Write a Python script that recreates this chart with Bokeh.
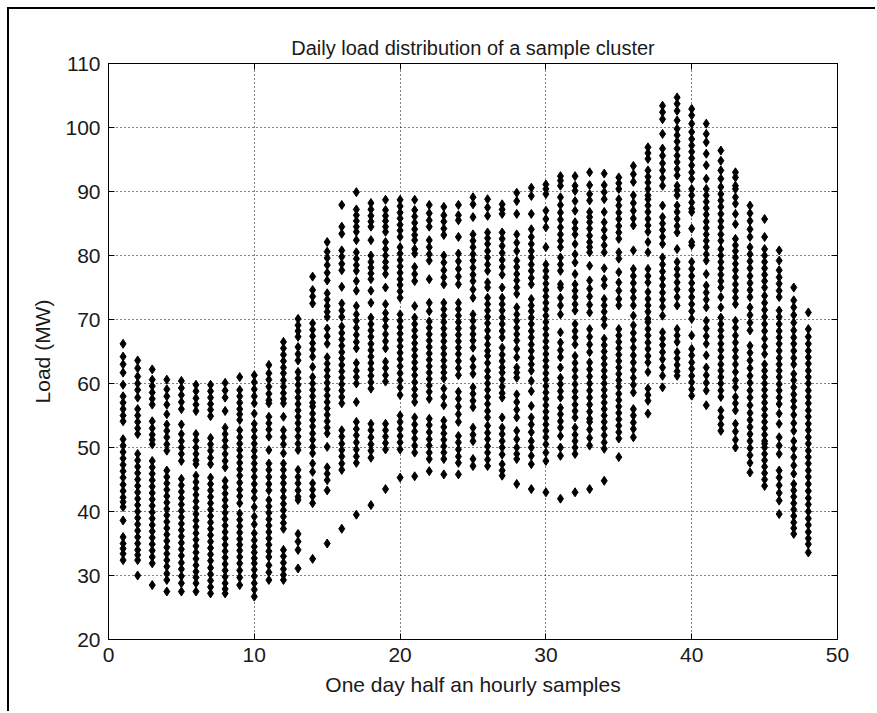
from bokeh.plotting import figure
from bokeh.models import LinearAxis, Range1d, FixedTicker, ColumnDataSource
from bokeh.embed import file_html
from bokeh.resources import INLINE

TITLE = "Daily load distribution of a sample cluster"
X_LABEL = "One day half an hourly samples"
Y_LABEL = "Load (MW)"
x_ticks = [0, 10, 20, 30, 40, 50]
y_ticks = [20, 30, 40, 50, 60, 70, 80, 90, 100, 110]

slots = list(range(1, 49))

s01 = [66.2, 64.2, 63.0, 61.7, 59.8, 58.0, 57.0, 56.0, 55.0, 54.1, 51.3, 50.3, 49.3, 48.3, 47.3, 46.3, 45.3, 44.2, 43.2, 42.2, 41.5, 40.7, 38.6, 36.0, 35.0, 34.2, 33.4, 32.4]
s02 = [63.6, 62.4, 61.1, 60.0, 59.0, 57.8, 56.0, 55.0, 54.0, 53.0, 52.1, 49.0, 48.0, 47.0, 46.0, 45.0, 44.0, 43.0, 42.0, 41.0, 40.0, 39.0, 38.0, 37.0, 36.0, 35.0, 34.0, 33.2, 32.4, 30.0]
s03 = [62.2, 60.6, 59.6, 58.6, 57.6, 56.7, 54.1, 53.0, 52.0, 51.2, 50.5, 47.9, 46.9, 45.9, 44.9, 43.9, 42.9, 41.9, 40.9, 39.9, 38.9, 37.9, 36.9, 35.9, 34.9, 33.9, 32.9, 31.9, 28.5]
s04 = [60.6, 59.1, 58.0, 56.7, 55.2, 53.6, 52.6, 51.6, 50.5, 49.5, 46.4, 45.4, 44.4, 43.4, 42.4, 41.4, 40.4, 39.4, 38.4, 37.4, 36.4, 35.4, 34.4, 33.4, 32.4, 31.4, 30.3, 29.3, 27.5]
s05 = [60.4, 59.3, 58.2, 57.1, 56.0, 53.6, 52.1, 51.0, 50.0, 49.0, 47.9, 45.1, 44.1, 43.1, 42.1, 41.1, 40.1, 39.1, 38.1, 37.1, 36.1, 35.1, 34.1, 33.1, 32.0, 31.0, 29.9, 28.8, 27.5]
s06 = [59.8, 58.8, 57.7, 56.7, 55.7, 52.1, 51.1, 50.0, 49.0, 48.0, 47.4, 45.6, 44.6, 43.6, 42.6, 41.6, 40.6, 39.6, 38.6, 37.6, 36.6, 35.6, 34.6, 33.6, 32.6, 31.6, 30.6, 29.7, 28.8, 27.5]
s07 = [59.8, 58.8, 57.8, 56.8, 55.9, 54.9, 51.5, 50.5, 49.5, 48.4, 47.4, 45.3, 44.3, 43.3, 42.3, 41.3, 40.3, 39.3, 38.3, 37.3, 36.3, 35.3, 34.3, 33.3, 32.3, 31.2, 30.2, 29.2, 28.2, 27.2]
s08 = [60.1, 58.9, 57.8, 55.7, 53.1, 52.1, 51.1, 50.1, 49.0, 47.9, 46.9, 44.8, 43.8, 42.8, 41.8, 40.8, 39.8, 38.8, 37.8, 36.8, 35.8, 34.8, 33.8, 32.8, 31.8, 30.8, 29.8, 28.8, 27.9, 27.2]
s09 = [61.0, 59.0, 58.0, 57.0, 56.0, 55.2, 54.3, 52.7, 51.6, 50.6, 49.6, 48.6, 47.6, 46.6, 45.6, 44.5, 43.4, 42.4, 41.3, 39.7, 38.7, 37.7, 36.7, 35.7, 34.8, 33.9, 32.9, 31.9, 30.8, 29.7, 28.5]
s10 = [61.3, 60.2, 59.1, 58.0, 56.9, 55.3, 53.7, 52.7, 51.6, 50.6, 49.5, 48.5, 47.5, 46.5, 45.4, 44.3, 43.2, 42.1, 40.7, 39.2, 38.0, 36.6, 35.5, 34.5, 33.6, 32.7, 31.9, 30.9, 29.9, 28.8, 27.8, 26.7]
s11 = [62.9, 61.6, 60.6, 59.5, 58.4, 57.4, 56.9, 54.8, 53.8, 52.8, 51.7, 49.6, 47.5, 46.5, 45.4, 44.3, 43.3, 41.8, 40.8, 39.8, 38.8, 37.8, 36.8, 35.8, 34.8, 33.8, 32.9, 31.6, 30.5, 29.3]
s12 = [66.5, 65.5, 64.5, 63.5, 62.5, 61.6, 60.5, 59.5, 58.5, 57.6, 56.9, 54.8, 52.7, 51.6, 50.5, 49.1, 47.5, 46.5, 45.4, 44.4, 43.3, 42.2, 41.2, 40.2, 39.2, 38.2, 37.3, 34.0, 33.0, 32.0, 31.0, 30.1, 29.3]
s13 = [70.1, 69.1, 68.2, 67.3, 65.7, 64.6, 63.6, 61.8, 60.8, 59.8, 58.8, 57.8, 56.8, 55.8, 54.8, 53.8, 52.8, 51.7, 50.6, 49.6, 46.5, 45.4, 44.4, 43.3, 42.3, 41.8, 36.5, 35.3, 34.0, 31.1]
s14 = [76.7, 74.6, 73.6, 72.5, 69.4, 68.4, 67.4, 66.3, 65.3, 64.2, 62.6, 61.0, 60.0, 59.0, 58.0, 57.0, 56.4, 55.3, 54.3, 53.3, 52.2, 51.2, 50.1, 49.1, 47.5, 46.2, 44.4, 43.4, 42.4, 41.3, 32.6]
s15 = [82.1, 80.6, 79.6, 78.5, 77.3, 76.1, 74.1, 73.1, 72.1, 71.2, 70.4, 68.6, 67.4, 66.2, 64.1, 63.1, 62.1, 61.1, 60.1, 59.1, 58.1, 57.1, 56.1, 55.1, 54.1, 53.1, 52.2, 50.1, 46.9, 45.9, 44.9, 43.3, 35.0]
s16 = [87.9, 84.5, 83.4, 80.8, 79.8, 78.7, 77.7, 75.1, 72.5, 71.4, 70.4, 68.9, 67.9, 66.9, 65.9, 64.9, 63.9, 62.9, 61.9, 60.9, 59.9, 58.9, 57.9, 56.9, 52.7, 51.7, 50.6, 49.6, 48.6, 47.5, 46.5, 37.3]
s17 = [89.9, 87.2, 86.3, 85.4, 84.5, 83.7, 82.4, 80.5, 79.5, 78.5, 77.6, 76.0, 74.5, 72.1, 70.8, 69.8, 68.7, 67.6, 66.5, 65.5, 63.2, 62.0, 61.0, 60.0, 57.1, 54.0, 52.9, 51.9, 50.8, 49.7, 48.6, 47.6, 39.5]
s18 = [88.2, 87.2, 86.2, 85.3, 84.5, 82.4, 80.0, 79.0, 78.1, 77.2, 76.3, 74.5, 72.6, 70.3, 69.3, 68.3, 67.3, 66.2, 65.2, 64.2, 63.2, 62.2, 61.2, 60.2, 59.2, 53.7, 52.7, 51.6, 50.5, 49.5, 48.4, 41.0]
s19 = [88.7, 87.1, 86.2, 85.4, 84.5, 83.7, 82.1, 81.0, 80.0, 79.0, 78.1, 77.1, 75.0, 72.4, 71.0, 70.0, 68.9, 67.7, 66.6, 65.5, 63.4, 62.4, 61.3, 60.3, 53.7, 52.7, 51.7, 50.7, 49.7, 43.5]
s20 = [88.7, 87.7, 86.7, 85.8, 84.8, 83.9, 82.9, 81.3, 80.3, 79.3, 78.3, 77.3, 76.3, 75.4, 74.4, 73.4, 70.8, 69.8, 68.8, 67.8, 66.8, 65.8, 64.8, 63.8, 62.7, 61.6, 60.5, 59.4, 58.2, 55.0, 54.0, 52.9, 51.8, 50.8, 49.7, 45.3]
s21 = [88.7, 87.1, 86.1, 85.1, 84.1, 83.2, 82.4, 81.0, 80.3, 78.2, 77.1, 76.0, 72.1, 70.3, 69.3, 68.3, 67.3, 66.3, 65.3, 64.3, 63.3, 62.3, 61.3, 60.2, 59.1, 58.1, 57.1, 54.7, 53.6, 52.5, 51.4, 50.3, 49.2, 45.5]
s22 = [87.9, 86.6, 85.5, 84.5, 82.4, 81.3, 80.2, 79.2, 76.3, 72.6, 71.3, 69.7, 68.7, 67.7, 66.7, 65.7, 64.7, 63.7, 62.7, 61.7, 60.7, 59.7, 58.7, 57.6, 54.5, 53.5, 52.4, 51.3, 50.3, 49.2, 48.2, 46.3]
s23 = [87.6, 86.3, 85.3, 84.2, 83.2, 80.0, 78.9, 77.7, 76.6, 75.5, 72.6, 71.6, 70.6, 69.6, 68.6, 67.6, 66.6, 65.6, 64.6, 63.6, 62.6, 61.7, 60.8, 59.2, 57.9, 56.6, 54.2, 53.2, 52.2, 51.2, 50.2, 49.2, 48.2, 45.8]
s24 = [87.9, 86.3, 85.5, 82.9, 80.3, 79.1, 77.9, 76.7, 75.5, 72.6, 71.6, 70.6, 69.6, 68.6, 67.6, 66.6, 65.6, 64.6, 63.5, 62.4, 61.3, 58.7, 57.6, 56.4, 55.2, 54.0, 51.8, 50.8, 49.7, 48.6, 47.6, 45.8]
s25 = [89.1, 88.0, 86.0, 83.3, 82.3, 81.3, 80.2, 79.2, 78.1, 77.0, 76.0, 74.7, 73.4, 70.8, 69.8, 68.7, 67.7, 66.7, 65.6, 63.8, 62.6, 61.5, 59.4, 58.4, 57.3, 56.3, 53.1, 52.0, 51.0, 48.2, 47.1]
s26 = [88.8, 87.5, 86.2, 83.6, 82.7, 81.8, 80.7, 79.7, 78.6, 77.6, 75.8, 75.0, 73.4, 72.4, 71.4, 70.4, 69.4, 68.3, 67.2, 66.1, 65.1, 64.3, 63.2, 62.0, 61.0, 60.0, 59.0, 57.9, 56.8, 55.7, 54.7, 53.4, 52.3, 51.3, 50.2, 49.2, 48.1, 47.1]
s27 = [88.0, 87.2, 86.5, 83.6, 82.6, 81.5, 80.4, 79.3, 78.2, 77.0, 75.0, 73.4, 72.4, 71.4, 70.3, 69.3, 68.2, 67.2, 65.6, 64.5, 63.5, 62.5, 61.7, 60.6, 59.5, 58.5, 57.8, 54.7, 53.1, 52.1, 51.0, 50.0, 48.9, 47.4, 46.4, 45.6]
s28 = [89.8, 88.5, 86.5, 83.3, 82.0, 80.7, 79.2, 78.2, 77.1, 76.1, 75.0, 74.0, 71.9, 70.8, 69.8, 68.7, 67.7, 66.7, 65.4, 64.1, 62.5, 61.7, 60.9, 58.3, 57.1, 55.9, 54.7, 52.6, 51.3, 50.0, 49.0, 48.2, 44.3]
s29 = [90.6, 89.3, 86.5, 84.1, 82.9, 81.8, 80.7, 79.7, 78.6, 77.6, 76.5, 75.5, 73.2, 72.2, 71.3, 70.3, 69.3, 68.2, 67.2, 66.1, 65.1, 64.0, 63.0, 62.0, 60.4, 58.8, 56.5, 54.7, 53.6, 52.4, 51.0, 50.0, 48.7, 47.4, 43.5]
s30 = [91.1, 90.4, 89.6, 87.0, 85.7, 84.4, 81.3, 78.6, 77.6, 76.6, 75.6, 74.6, 73.6, 72.6, 71.6, 70.6, 69.6, 68.6, 67.6, 66.6, 65.6, 64.6, 63.6, 62.6, 61.6, 60.6, 59.6, 58.6, 57.6, 56.6, 55.6, 54.6, 53.6, 52.6, 51.6, 50.5, 49.2, 47.9, 43.0]
s31 = [92.4, 91.7, 90.9, 89.1, 87.9, 86.7, 85.6, 84.4, 83.3, 82.3, 81.3, 79.7, 78.6, 77.6, 75.5, 75.0, 73.4, 72.2, 70.8, 68.0, 66.4, 65.2, 64.1, 62.5, 60.9, 59.9, 58.8, 57.8, 56.2, 55.2, 54.1, 53.1, 51.8, 50.0, 48.7, 42.0]
s32 = [92.4, 90.9, 90.1, 88.5, 87.0, 85.2, 84.2, 83.3, 81.8, 80.2, 78.9, 77.1, 75.5, 74.5, 73.5, 72.4, 71.4, 69.3, 68.2, 67.2, 66.1, 64.3, 63.2, 62.1, 61.0, 59.9, 58.8, 57.8, 56.7, 55.7, 54.7, 53.1, 52.0, 51.0, 50.0, 49.0, 43.0]
s33 = [93.0, 91.0, 89.6, 88.6, 86.8, 86.0, 85.2, 84.2, 83.1, 82.1, 81.3, 80.5, 78.4, 76.1, 74.8, 73.6, 72.3, 71.1, 68.5, 67.3, 66.1, 64.9, 63.3, 62.2, 61.1, 60.0, 58.9, 57.8, 56.7, 55.6, 54.5, 54.0, 52.8, 51.5, 50.3, 43.5]
s34 = [92.8, 91.0, 89.9, 88.8, 86.8, 85.2, 84.0, 82.8, 81.6, 80.5, 78.0, 76.3, 75.3, 73.2, 72.2, 71.2, 70.1, 69.1, 67.0, 66.0, 65.0, 64.0, 63.0, 62.0, 61.0, 60.0, 59.0, 58.0, 57.0, 56.0, 55.0, 54.0, 53.0, 51.9, 50.8, 49.8, 44.8]
s35 = [92.2, 91.3, 90.4, 88.8, 87.8, 86.7, 85.7, 84.6, 83.6, 82.6, 80.5, 79.5, 77.4, 75.8, 74.5, 73.2, 72.2, 68.5, 67.5, 66.5, 65.5, 64.5, 63.5, 62.5, 61.5, 60.5, 59.5, 58.4, 57.4, 56.4, 55.4, 54.4, 53.4, 52.4, 51.4, 48.5]
s36 = [94.0, 92.7, 91.5, 89.4, 88.2, 87.0, 85.8, 84.7, 80.8, 77.9, 76.8, 75.7, 74.5, 73.4, 72.2, 70.6, 69.1, 67.9, 66.8, 65.6, 64.4, 63.3, 62.1, 60.9, 59.8, 58.6, 56.0, 55.0, 53.9, 52.9, 51.6]
s37 = [96.9, 96.0, 95.1, 93.3, 92.3, 91.4, 90.4, 89.4, 88.8, 87.8, 86.8, 85.7, 84.7, 83.7, 82.1, 80.5, 77.9, 76.8, 75.8, 74.3, 73.2, 72.2, 71.2, 70.1, 69.6, 68.5, 67.5, 66.4, 65.4, 64.3, 63.3, 61.8, 59.2, 58.2, 57.3, 55.3]
s38 = [103.4, 102.4, 101.3, 99.0, 96.7, 95.6, 94.4, 93.3, 92.1, 90.9, 87.8, 86.0, 85.0, 84.0, 82.9, 81.8, 79.7, 78.6, 77.5, 76.4, 75.3, 74.2, 73.1, 72.0, 70.6, 68.0, 67.0, 66.0, 64.9, 63.8, 62.5, 61.2, 59.4]
s39 = [104.7, 103.7, 102.6, 101.1, 99.8, 98.8, 97.8, 96.7, 95.6, 94.6, 93.5, 92.5, 90.9, 90.2, 89.4, 87.8, 86.8, 85.7, 84.6, 83.6, 81.0, 79.0, 77.9, 76.9, 75.8, 74.7, 73.5, 72.2, 68.5, 67.5, 66.5, 64.9, 63.9, 62.9, 61.9, 61.2]
s40 = [102.9, 101.9, 100.6, 99.3, 98.2, 97.2, 96.2, 95.2, 94.1, 93.0, 92.0, 90.4, 89.4, 88.3, 87.3, 86.8, 84.2, 82.1, 81.6, 79.0, 77.9, 76.8, 75.7, 74.6, 73.5, 72.4, 71.3, 70.1, 67.5, 65.4, 64.4, 63.3, 62.3, 61.2, 60.2, 59.1, 58.1]
s41 = [100.6, 99.0, 97.7, 95.9, 94.1, 92.0, 90.4, 89.4, 88.4, 87.4, 86.4, 85.3, 84.3, 83.3, 82.3, 81.3, 80.2, 79.2, 77.1, 75.3, 74.2, 73.1, 71.9, 69.8, 68.6, 67.4, 66.2, 64.4, 62.5, 61.3, 60.1, 58.9, 56.6]
s42 = [96.4, 94.8, 93.3, 92.0, 90.7, 89.6, 88.6, 87.6, 86.5, 85.4, 84.4, 83.3, 82.3, 81.0, 80.0, 79.0, 78.0, 77.0, 76.0, 75.0, 73.5, 71.9, 70.3, 69.3, 68.3, 67.3, 66.2, 65.2, 64.1, 63.0, 62.0, 61.0, 60.0, 58.9, 57.9, 55.8, 54.7, 53.6, 52.6]
s43 = [93.0, 92.2, 90.9, 90.4, 89.1, 88.1, 86.5, 84.9, 82.6, 81.6, 80.7, 79.7, 78.7, 77.7, 76.6, 75.5, 74.5, 73.4, 72.4, 69.8, 68.7, 67.5, 66.4, 65.2, 64.1, 63.0, 61.8, 60.5, 59.4, 57.9, 56.9, 55.8, 53.7, 52.5, 51.2, 50.0]
s44 = [87.8, 86.6, 85.4, 84.1, 82.9, 81.3, 80.2, 79.1, 78.0, 76.8, 75.7, 74.6, 73.5, 71.9, 70.7, 69.5, 68.3, 65.9, 64.8, 63.6, 62.4, 61.2, 60.1, 58.9, 57.8, 56.6, 55.4, 54.3, 53.2, 52.1, 51.0, 49.9, 48.8, 47.6, 46.1]
s45 = [85.7, 82.9, 81.0, 80.0, 79.0, 78.0, 77.0, 76.0, 75.0, 73.7, 72.6, 71.5, 70.4, 69.3, 68.2, 67.0, 65.8, 64.6, 63.0, 62.0, 61.0, 60.0, 59.0, 58.0, 57.0, 56.0, 55.0, 54.0, 53.0, 52.0, 51.0, 50.6, 50.0, 49.0, 48.0, 47.0, 46.0, 45.0, 44.0]
s46 = [80.8, 79.2, 77.7, 76.6, 75.6, 74.5, 73.5, 71.4, 70.4, 69.3, 68.2, 67.2, 66.2, 65.1, 64.0, 63.0, 62.0, 61.0, 59.9, 58.9, 57.8, 56.8, 55.3, 53.7, 51.6, 50.3, 49.0, 46.4, 45.3, 44.1, 42.9, 41.7, 39.6]
s47 = [75.0, 73.0, 71.9, 70.7, 69.5, 68.3, 67.2, 66.2, 65.1, 64.0, 63.0, 61.5, 60.5, 59.4, 58.3, 57.3, 56.3, 55.1, 53.8, 52.6, 51.0, 49.8, 48.5, 47.2, 45.9, 44.3, 43.3, 42.3, 41.3, 40.3, 39.3, 38.3, 37.4, 36.5]
s48 = [71.1, 68.5, 67.3, 66.2, 65.1, 64.1, 63.1, 62.0, 61.0, 60.0, 58.9, 57.9, 56.9, 55.8, 54.8, 53.7, 52.7, 51.6, 50.6, 49.5, 48.5, 47.5, 46.4, 45.4, 44.3, 43.2, 42.1, 41.1, 40.0, 38.9, 37.9, 36.8, 35.8, 34.9, 33.6]

loads = [s01, s02, s03, s04, s05, s06, s07, s08, s09, s10, s11, s12,
         s13, s14, s15, s16, s17, s18, s19, s20, s21, s22, s23, s24,
         s25, s26, s27, s28, s29, s30, s31, s32, s33, s34, s35, s36,
         s37, s38, s39, s40, s41, s42, s43, s44, s45, s46, s47, s48]

xs, ys = [], []
for slot, vals in zip(slots, loads):
    xs.extend([slot] * len(vals))
    ys.extend(vals)
src = ColumnDataSource(dict(x=xs, y=ys))

FONT = "Liberation Sans"
FS = "21px"
TEXT_COLOR = "#1a1a1a"

p = figure(width=868, height=704, output_backend="svg", toolbar_location=None,
           x_range=Range1d(0, 50), y_range=Range1d(20, 110),
           min_border_left=99, min_border_right=40, min_border_top=54, min_border_bottom=74,
           x_axis_location=None, y_axis_location=None)
p.margin = (7, 0, 0, 7)
p.styles = {"border-top": "2px solid #000", "border-left": "2px solid #000"}
p.background_fill_color = "white"
p.border_fill_color = "white"
p.outline_line_color = "#000000"
p.outline_line_width = 1

p.title.text = TITLE
p.title.align = "center"
p.title.text_font = FONT
p.title.text_font_size = "20px"
p.title.text_font_style = "normal"
p.title.text_color = TEXT_COLOR

def make_axis(loc, ticks, label, show_labels, label_standoff=10):
    ax = LinearAxis(ticker=FixedTicker(ticks=ticks))
    ax.major_tick_in = 6
    ax.major_tick_out = 0
    ax.minor_tick_in = 0
    ax.minor_tick_out = 0
    ax.axis_line_color = "#000000"
    ax.major_tick_line_color = "#000000"
    ax.major_label_text_font = FONT
    if show_labels:
        ax.major_label_text_font_size = FS
        ax.major_label_text_color = TEXT_COLOR
        ax.major_label_standoff = 8
    else:
        # invisible tick labels: keep space only (pushes the title upward)
        ax.major_label_text_font_size = "6px"
        ax.major_label_text_color = "#ffffff"
        ax.major_label_text_alpha = 0
        ax.major_label_standoff = 0
    if label:
        ax.axis_label = label
        ax.axis_label_text_font = FONT
        ax.axis_label_text_font_size = "21px"
        ax.axis_label_text_font_style = "normal"
        ax.axis_label_text_color = TEXT_COLOR
        ax.axis_label_standoff = label_standoff
    p.add_layout(ax, loc)
    return ax

make_axis("below", x_ticks, X_LABEL, True, 8)
make_axis("left", y_ticks, Y_LABEL, True, 8)
make_axis("above", x_ticks, None, False)
make_axis("right", y_ticks, None, False)

p.xgrid.ticker = FixedTicker(ticks=x_ticks)
p.ygrid.ticker = FixedTicker(ticks=y_ticks)
for g in (p.xgrid, p.ygrid):
    g.grid_line_color = "#000000"
    g.grid_line_dash = "1 3"
    g.grid_line_width = 1

p.scatter("x", "y", source=src, marker="diamond", size=9,
          fill_color="#000000", line_color="#000000", line_width=1)

open("out.html", "w").write(file_html(p, INLINE))
